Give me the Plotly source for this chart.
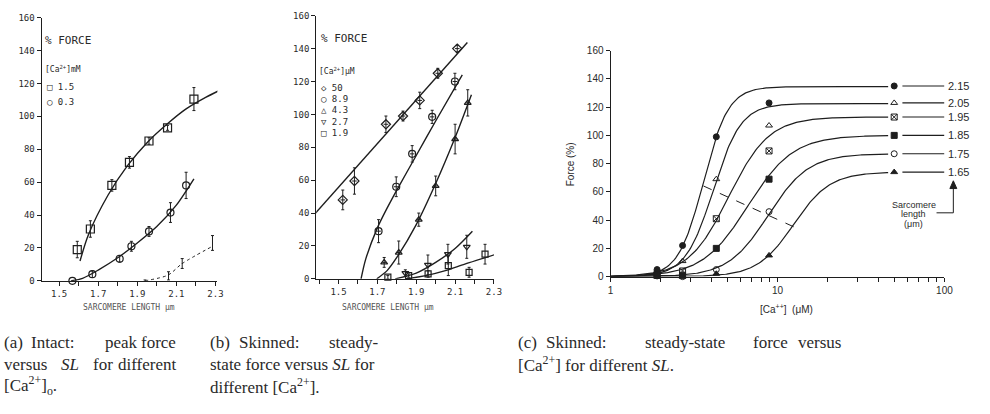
import numpy as np
import plotly.graph_objects as go

W, H = 990, 414
INK = "#1e1e1e"
TXT = "#2a2a2a"
MONO = "DejaVu Sans Mono"
SANS = "Liberation Sans"
SERIF = "Liberation Serif"

# ---------------- (a) intact fibres: peak force vs sarcomere length ----------------
a_sl_15 = [1.593, 1.66, 1.77, 1.86, 1.96, 2.055, 2.19]
a_f_15 = [19, 31.5, 58, 72, 85, 93, 110.5]
a_e_15 = [5, 5, 3.5, 3.5, 2, 1.5, 7]
a_sl_03 = [1.568, 1.67, 1.81, 1.87, 1.96, 2.07, 2.15]
a_f_03 = [0, 4, 13.4, 21, 30, 41.5, 58]
a_e_03 = [0, 2, 2, 3, 3, 6, 8]
a_sl_low = [1.94, 2.06, 2.13, 2.285]
a_f_low = [0, 3, 10.5, 23]
a_e_low = [0.5, 2.5, 3, 4.5]
# hand-traced fitted curves
a_fit15_x = [1.607, 1.65, 1.75, 1.85, 1.95, 2.05, 2.15, 2.25, 2.316]
a_fit15_y = [12, 28, 52, 70, 84, 95, 104.5, 111.5, 115.5]
a_fit03_x = [1.565, 1.62, 1.7, 1.8, 1.9, 2.0, 2.1, 2.19]
a_fit03_y = [0, 1.5, 6.5, 14, 23, 33, 46, 62]
a_fitlow_x = [1.94, 2.058, 2.13, 2.29]
a_fitlow_y = [0, 3.5, 10.5, 21.3]

# ---------------- (b) skinned fibres: steady force vs sarcomere length ----------------
b_sl_50 = [1.522, 1.582, 1.744, 1.832, 1.918, 2.011, 2.111]
b_f_50 = [48, 59.5, 94, 99, 108.5, 125, 140]
b_e_50 = [6, 8, 5, 3, 5, 3, 2]
b_sl_89 = [1.706, 1.797, 1.879, 1.982, 2.099]
b_f_89 = [29, 56, 76, 98.5, 120]
b_e_89 = [7, 6, 5, 4, 5]
b_sl_43 = [1.735, 1.81, 1.913, 2.0, 2.10, 2.165]
b_f_43 = [10, 16, 36, 56.5, 85, 107]
b_e_43 = [3, 7, 4, 6, 9, 8]
b_sl_27 = [1.844, 1.96, 2.063, 2.16]
b_f_27 = [3.5, 8.5, 15, 19.5]
b_e_27 = [2, 6, 6, 7]
b_sl_19 = [1.754, 1.861, 1.961, 2.065, 2.172, 2.254]
b_f_19 = [1, 2, 3, 8, 4, 15]
b_e_19 = [1, 1, 2, 6, 3, 6]
b_fit50_x = [1.382, 2.163]
b_fit50_y = [40, 143.7]
b_fit89_x = [1.616, 1.64, 1.7, 1.75, 1.8, 1.9, 2.0, 2.137]
b_fit89_y = [0, 12, 31, 43, 54, 75, 96, 124]
b_fit43_x = [1.697, 1.75, 1.8, 1.9, 2.0, 2.1, 2.184]
b_fit43_y = [0, 5, 13, 33, 58, 86, 112]
b_fit27_x = [1.792, 1.9, 2.0, 2.1, 2.189]
b_fit27_y = [0, 3.5, 10, 18.5, 29]
b_fit19_x = [1.844, 1.95, 2.05, 2.15, 2.306]
b_fit19_y = [0, 2, 5, 9, 14.8]

# ---------------- (c) skinned fibres: force vs [Ca2+] ----------------
c_ca = [1.9, 2.7, 4.3, 8.9, 50]
c_sl = ["2.15", "2.05", "1.95", "1.85", "1.75", "1.65"]
c_force = [
    [5, 22, 99, 123, 135],
    [3, 11, 69, 107, 123],
    [2, 4, 41, 89, 113],
    [1, 1, 20, 69, 100],
    [0.5, 0, 5, 46, 87],
    [0, 0, 2, 15, 74],
]
# Hill-curve fit parameters for each sarcomere length
c_fmax = [134.5, 122.5, 113, 100, 87, 74]
c_k = [3.6, 4.12, 5.1, 6.64, 8.8, 12.5]
c_n = [5.8, 5.2, 3.6, 3.2, 3.6, 4.0]
c_half_x = [3.6, 13.1]
c_half_y = [64.2, 34.2]
c_symbols = ["circle", "triangle-up-open", "square-x-open", "square", "circle-open", "triangle-up"]

fig = go.Figure()


def errs(x, y, e, sym, size, xa, ya, ex=None):
    fig.add_trace(go.Scatter(
        x=x, y=y, mode="markers", xaxis=xa, yaxis=ya, cliponaxis=False,
        marker=dict(symbol=sym, size=size, color=INK, line=dict(color=INK, width=1.2)),
        error_y=dict(type="data", array=e, color=INK, thickness=1, width=1.5),
        error_x=(dict(type="constant", value=ex, color=INK, thickness=1, width=0) if ex else None),
        showlegend=False, hoverinfo="skip"))


def curve(x, y, xa, ya, dash="solid", shape="spline", width=1.4):
    fig.add_trace(go.Scatter(
        x=x, y=y, mode="lines", xaxis=xa, yaxis=ya,
        line=dict(color=INK, width=width, dash=dash, shape=shape, smoothing=0.8),
        showlegend=False, hoverinfo="skip"))


# (a)
curve(a_fit15_x, a_fit15_y, "x", "y")
curve(a_fit03_x, a_fit03_y, "x", "y")
curve(a_fitlow_x, a_fitlow_y, "x", "y", dash="dot", width=1)
errs(a_sl_15, a_f_15, a_e_15, "square-open", 8, "x", "y")
errs(a_sl_03, a_f_03, a_e_03, "circle-open", 7, "x", "y")
fig.add_trace(go.Scatter(
    x=a_sl_low, y=a_f_low, mode="markers", xaxis="x", yaxis="y",
    marker=dict(size=1, color=INK),
    error_y=dict(type="data", array=a_e_low, color=INK, thickness=1, width=1.5),
    showlegend=False, hoverinfo="skip"))

# (b)
curve(b_fit50_x, b_fit50_y, "x2", "y2", shape="linear")
curve(b_fit89_x, b_fit89_y, "x2", "y2")
curve(b_fit43_x, b_fit43_y, "x2", "y2")
curve(b_fit27_x, b_fit27_y, "x2", "y2")
curve(b_fit19_x, b_fit19_y, "x2", "y2")
errs(b_sl_50, b_f_50, b_e_50, "diamond-open", 7, "x2", "y2", ex=0.012)
errs(b_sl_89, b_f_89, b_e_89, "circle-open", 7, "x2", "y2", ex=0.012)
errs(b_sl_43, b_f_43, b_e_43, "triangle-up-open", 6, "x2", "y2", ex=0.01)
errs(b_sl_27, b_f_27, b_e_27, "triangle-down-open", 6, "x2", "y2")
errs(b_sl_19, b_f_19, b_e_19, "square-open", 6, "x2", "y2")

# (c)
for i in range(len(c_sl)):
    xs = np.logspace(0, np.log10(46), 240)
    ys = c_fmax[i] * xs ** c_n[i] / (xs ** c_n[i] + c_k[i] ** c_n[i])
    curve(xs, ys, "x3", "y3", shape="linear", width=1.2)
    fig.add_trace(go.Scatter(
        x=[56, 100], y=[c_force[i][-1]] * 2, mode="lines", xaxis="x3", yaxis="y3",
        line=dict(color=INK, width=1.1), showlegend=False, hoverinfo="skip"))
    fig.add_trace(go.Scatter(
        x=c_ca, y=c_force[i], mode="markers", xaxis="x3", yaxis="y3", cliponaxis=False,
        marker=dict(symbol=c_symbols[i], size=6, color=INK, line=dict(color=INK, width=1)),
        showlegend=False, hoverinfo="skip"))
    fig.add_annotation(xref="paper", yref="y3", x=955 / W, y=c_force[i][-1], text=c_sl[i],
                       showarrow=False, xanchor="left", yanchor="middle",
                       font=dict(family=SANS, size=11, color=TXT))
curve(c_half_x, c_half_y, "x3", "y3", dash="dash", shape="linear", width=1)

mono_tick = dict(family=MONO, size=9, color=TXT)
f_ticks = [0, 20, 40, 60, 80, 100, 120, 140, 160]
base = dict(showgrid=False, zeroline=False, showline=True, linecolor=INK, linewidth=1,
            ticks="outside", tickcolor=INK, ticklen=4, tickwidth=1)
sl_axis = dict(base, tick0=1.5, dtick=0.2, tickformat=".1f", tickfont=mono_tick,
               minor=dict(dtick=0.1, ticks="outside", ticklen=4, tickcolor=INK, tickwidth=1))

fig.update_layout(
    width=W, height=H, margin=dict(l=0, r=0, t=0, b=0),
    paper_bgcolor="white", plot_bgcolor="white",
    xaxis=dict(sl_axis, domain=[39 / W, 217 / W], range=[1.41, 2.31], anchor="y"),
    yaxis=dict(base, domain=[1 - 283 / H, 1 - 12 / H], range=[0, 160], anchor="x",
               tickvals=f_ticks, tickfont=mono_tick),
    xaxis2=dict(sl_axis, domain=[317 / W, 497 / W], range=[1.385, 2.3], anchor="y2"),
    yaxis2=dict(base, domain=[1 - 281 / H, 1 - 10 / H], range=[0, 160], anchor="x2",
                tickvals=f_ticks, tickfont=mono_tick),
    xaxis3=dict(base, type="log", domain=[615 / W, 953 / W], range=[0, 2], anchor="y3",
                dtick=1, tickfont=dict(family=SANS, size=10, color=TXT),
                minor=dict(dtick="D1", ticks="outside", ticklen=4, tickcolor=INK, tickwidth=1)),
    yaxis3=dict(base, domain=[1 - 278.7 / H, 1 - 46 / H], range=[0, 160], anchor="x3",
                tickvals=f_ticks, tickfont=dict(family=SANS, size=10, color=TXT)),
)


def note(x, y, text, size, family, anchor="left", color=TXT, angle=0):
    fig.add_annotation(xref="paper", yref="paper", x=x / W, y=1 - y / H, text=text,
                       showarrow=False, xanchor=anchor, yanchor="middle", textangle=angle,
                       font=dict(family=family, size=size, color=color), borderpad=0)


def px(x, y):
    return x / W, 1 - y / H


# panel (a) key and axis title
note(42, 36, "% FORCE", 11, MONO)
note(42, 65, "[Ca<sup>2+</sup>]mM", 8, MONO)
note(44, 83, "\u25a1 1.5", 9, MONO)
note(44, 99, "\u25cb 0.3", 9, MONO)
note(128, 311, "SARCOMERE LENGTH \u03bcm", 8, MONO, anchor="center", color="#555")

# panel (b) key and axis title
note(321, 33, "% FORCE", 11, MONO)
note(319, 67, "[Ca<sup>2+</sup>]\u03bcM", 8, MONO)
for j, (sym, lab) in enumerate([("\u25c7", "50"), ("\u25cb", "8.9"), ("\u25b3", "4.3"),
                                 ("\u25bd", "2.7"), ("\u25a1", "1.9")]):
    note(321, 84 + 11.7 * j, sym + " " + lab, 9, MONO)
note(390, 311, "SARCOMERE LENGTH \u03bcm", 8, MONO, anchor="center", color="#555")

# panel (c) axis titles and sarcomere-length key
note(574, 163, "Force (%)", 10, SANS, anchor="center", angle=-90)
note(793, 312, "[Ca<sup>++</sup>]  (\u03bcM)", 10, SANS, anchor="center")
note(922, 204.5, "Sarcomere", 9, SANS, anchor="center")
note(922, 214.5, "length", 9, SANS, anchor="center")
note(922, 225, "(\u03bcm)", 9, SANS, anchor="center")
x0, y0 = px(945, 213)
x1, y1 = px(962, 213)
x2, y2 = px(962, 187)
fig.add_shape(type="path", xref="paper", yref="paper",
              path=f"M {x0} {y0} L {x1} {y1} L {x2} {y2}",
              line=dict(color=INK, width=1))
ha, hb = px(958.5, 188)
hc, hd = px(965.5, 188)
he, hf = px(962, 180)
fig.add_shape(type="path", xref="paper", yref="paper",
              path=f"M {ha} {hb} L {hc} {hd} L {he} {hf} Z",
              line=dict(color=INK, width=1), fillcolor=INK)

# captions
CAP = 17
note(0, 347, "(a)", CAP, SERIF)
note(27, 347, "Intact:", CAP, SERIF)
note(120, 347, "peak", CAP, SERIF, anchor="center")
note(176, 347, "force", CAP, SERIF, anchor="right")
note(0, 369, "versus", CAP, SERIF)
note(68, 369, "<i>SL</i>", CAP, SERIF, anchor="center")
note(101, 369, "for", CAP, SERIF, anchor="center")
note(176, 369, "different", CAP, SERIF, anchor="right")
note(0, 391, "[Ca<sup>2+</sup>]<sub>o</sub>.", CAP, SERIF)

note(209, 347, "(b)", CAP, SERIF)
note(238, 347, "Skinned:", CAP, SERIF)
note(381, 347, "steady-", CAP, SERIF, anchor="right")
note(209, 369, "state force versus <i>SL</i> for", CAP, SERIF)
note(209, 391, "different [Ca<sup>2+</sup>].", CAP, SERIF)

note(520, 347, "(c)", CAP, SERIF)
note(549, 347, "Skinned:", CAP, SERIF)
note(690, 347, "steady-state", CAP, SERIF, anchor="center")
note(777, 347, "force", CAP, SERIF, anchor="center")
note(849, 347, "versus", CAP, SERIF, anchor="right")
note(520, 369, "[Ca<sup>2+</sup>] for different <i>SL</i>.", CAP, SERIF)

fig.write_html("out.html")
